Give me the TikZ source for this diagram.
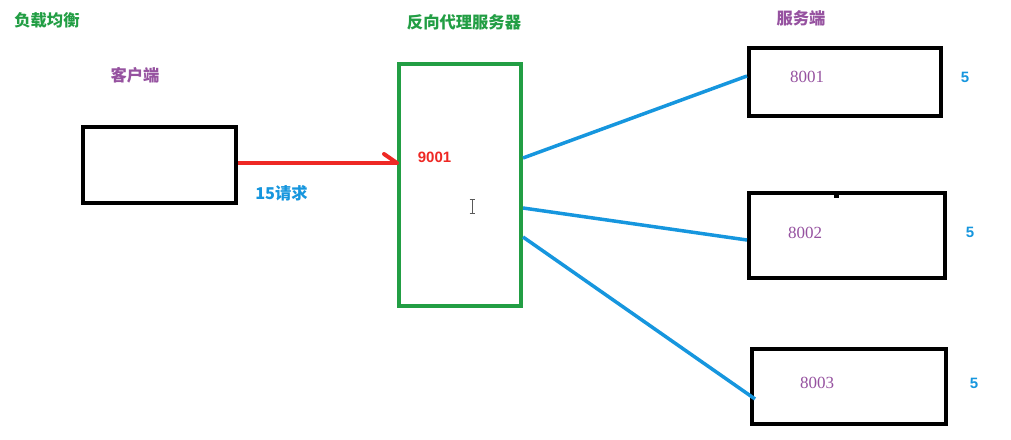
\documentclass[tikz,border=0pt]{standalone}
\usepackage{fontspec}
\setmainfont{Liberation Sans}
\newfontfamily\cjk{Noto Sans CJK SC}
\newfontfamily\serifnum{Liberation Serif}
\definecolor{tgreen}{RGB}{34,158,68}
\definecolor{tpurple}{RGB}{150,82,160}
\definecolor{tblue}{RGB}{22,150,222}
\definecolor{tred}{RGB}{238,40,36}
\tikzset{
  blackbox/.style={draw=black,line width=4pt},
  greenbox/.style={draw=tgreen,line width=4pt},
  link/.style={draw=tblue,line width=3.5pt},
  lbl/.style={font=\cjk\bfseries\fontsize{16.3}{18}\selectfont,inner sep=0pt},
  num/.style={font=\serifnum\fontsize{17}{19}\selectfont,text=tpurple,inner sep=0pt},
  cnt/.style={font=\bfseries\fontsize{15}{17}\selectfont,text=tblue,inner sep=0pt},
}
\begin{document}
\begin{tikzpicture}[x=1pt,y=-1pt]
\useasboundingbox[fill=white] (0,0) rectangle (1011,439);
% boxes
\node[blackbox,minimum width=153pt,minimum height=76pt,inner sep=0pt] (client) at (159.5,165) {};
\node[greenbox,minimum width=122pt,minimum height=242pt,inner sep=0pt] (proxy) at (460,185) {};
\node[blackbox,minimum width=192pt,minimum height=68pt,inner sep=0pt] (s1) at (845,82) {};
\node[blackbox,minimum width=196pt,minimum height=85pt,inner sep=0pt] (s2) at (847,235.5) {};
\node[blackbox,minimum width=194pt,minimum height=75pt,inner sep=0pt] (s3) at (849,386.5) {};
\fill[black] (834,193) rectangle (839,198);
% titles
\node[lbl,text=tgreen] (t1) at (47,20) {负载均衡};
\node[lbl,text=tpurple] (t2) at (135,75) {客户端};
\node[lbl,text=tgreen] (t3) at (464,22) {反向代理服务器};
\node[lbl,text=tpurple] (t4) at (801,18) {服务端};
% red arrow
\coordinate (rtip) at (397,163);
\coordinate (barb) at (384,154);
\draw[tred,line width=4pt] (client.east |- 0,163) -- (rtip);
\draw[tred,line width=4pt,line cap=round] (barb) -- (rtip);
\node[font=\bfseries\fontsize{15}{17}\selectfont,text=tred,inner sep=0pt] (p) at (434.5,157) {9001};
\node[lbl,text=tblue] (req) at (281.5,193) {15请求};
% links
\draw[link] (proxy.east |- 0,158) -- (s1.west |- 0,76);
\draw[link] (proxy.east |- 0,208) -- (s2.west |- 0,240);
\draw[link] (proxy.east |- 0,237) -- (755,399);
% server labels
\node[num] (n1) at (807,77) {8001};
\node[num] (n2) at (805,233) {8002};
\node[num] (n3) at (817,383) {8003};
\node[cnt] (c1) at (965,77) {5};
\node[cnt] (c2) at (970,232) {5};
\node[cnt] (c3) at (974,383) {5};
% text cursor
\draw[gray!70!black,line width=1pt] (472,199) -- (472,213) (469.5,199) -- (474.5,199) (469.5,213) -- (474.5,213);
\end{tikzpicture}
\end{document}
